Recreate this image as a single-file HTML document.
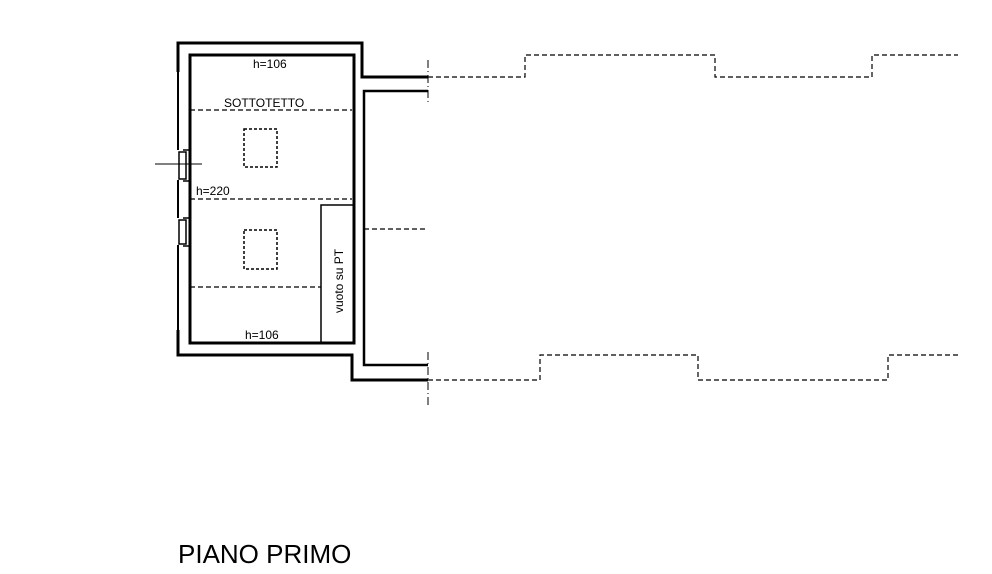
<!DOCTYPE html>
<html><head><style>body{margin:0;background:#fff}svg{display:block}</style></head><body>
<svg width="992" height="574" viewBox="0 0 992 574" xmlns="http://www.w3.org/2000/svg" font-family="Liberation Sans, sans-serif">
<g fill="none" stroke="#000">
<path d="M178 72 V43 H362 V77 H428" stroke-width="3"/>
<path d="M190 343 V55 H354 V343 Z" stroke-width="3"/>
<path d="M428 91 H364 V365 H428" stroke-width="2.5"/>
<path d="M178 330 V355 H352 V380 H428" stroke-width="3"/>
<path d="M178 70 V150 M178 180 V218 M178 245 V330" stroke-width="2"/>
<rect x="179" y="152" width="7" height="27" stroke-width="1.5"/>
<rect x="179" y="220" width="7" height="24" stroke-width="1.5"/>
<path d="M183 150 H190 M183 181 H190 M183 218 H190 M183 246 H190" stroke-width="1.5"/>
<path d="M155 164 H202" stroke-width="1"/>
<path d="M321 343 V205 H354" stroke-width="1.5"/>
<g stroke-dasharray="5 3" stroke-width="1.2">
<path d="M190 110 H352 M190 199 H352 M190 287 H321 M364 229 H428"/>
<path d="M428 77 H525 V55 H715 V77 H872 V55 H958"/>
<path d="M428 380 H540 V355 H698 V380 H888 V355 H958"/>
<rect x="244" y="129" width="33" height="38" stroke-width="1.5" stroke-dasharray="3 2"/>
<rect x="244" y="230" width="33" height="39" stroke-width="1.5" stroke-dasharray="3 2"/>
</g>
<path d="M428 60 V105 M428 352 V405" stroke-width="1" stroke-dasharray="8 3 1 3"/>
</g>
<g font-size="12" fill="#000">
<text x="253" y="68">h=106</text>
<text x="224" y="107">SOTTOTETTO</text>
<text x="196" y="195">h=220</text>
<text x="245" y="339">h=106</text>
<text transform="translate(343 313) rotate(-90)">vuoto su PT</text>
</g>
<text x="178" y="563" font-size="26" fill="#000">PIANO PRIMO</text>
</svg>
</body></html>
